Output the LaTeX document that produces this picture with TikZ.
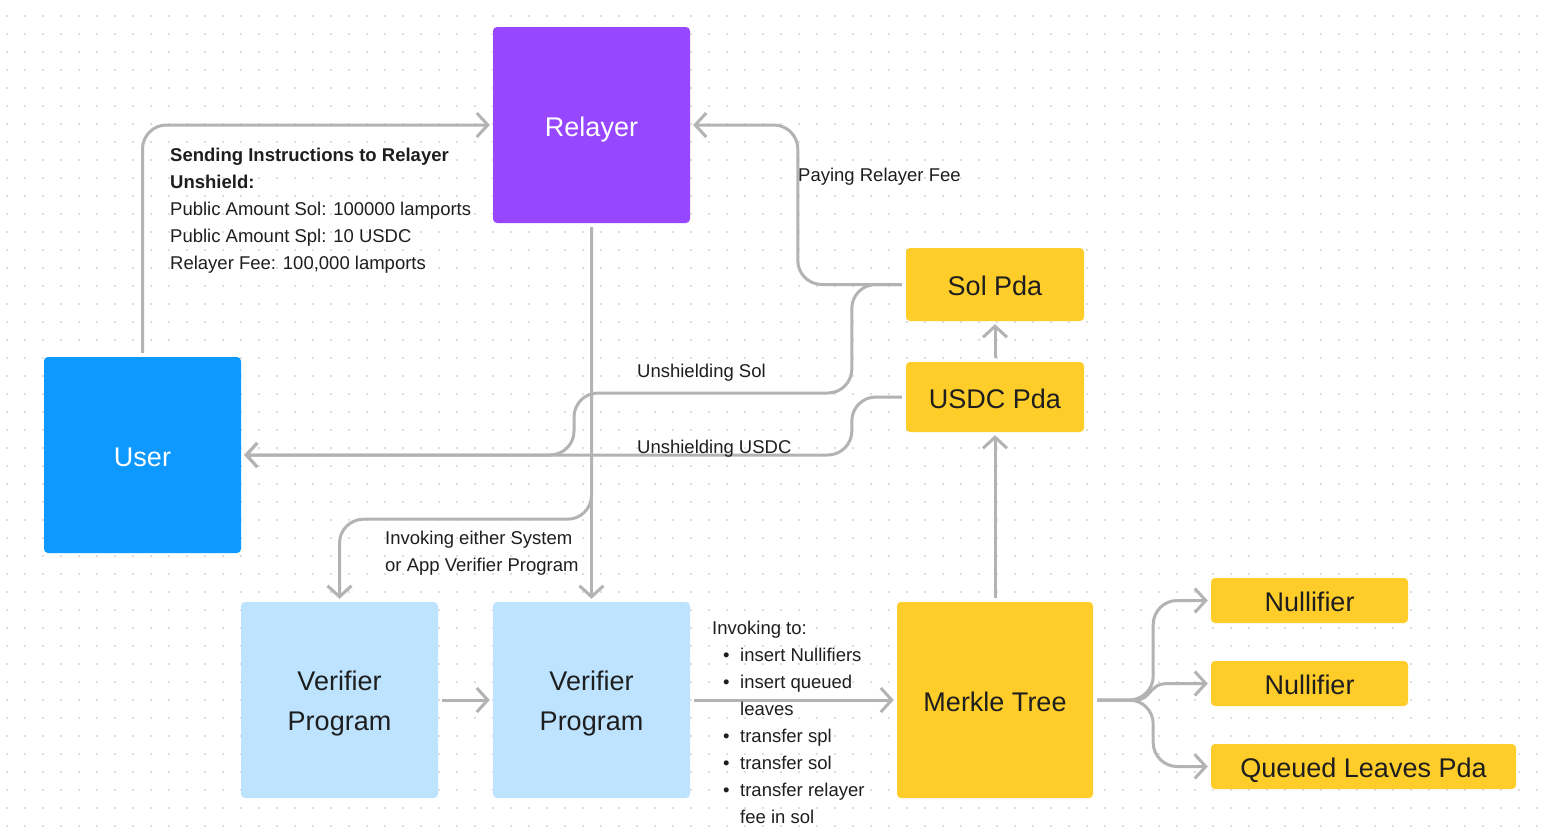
\documentclass[tikz,border=0pt]{standalone}
\usepackage{fontspec}
\setmainfont{Liberation Sans}
\usetikzlibrary{arrows.meta}
\definecolor{relpurple}{HTML}{9747FF}
\definecolor{userblue}{HTML}{0D99FF}
\definecolor{lightblue}{HTML}{BDE3FF}
\definecolor{pdayellow}{HTML}{FFCD29}
\definecolor{conngray}{HTML}{B3B3B3}
\definecolor{inkdark}{HTML}{1E1E1E}
\definecolor{dotgray}{HTML}{D2D2D2}
\begin{document}
\begin{tikzpicture}[x=1pt,y=-1pt,
  boxbase/.style={rounded corners=4pt, inner sep=0pt, font=\fontsize{27}{40}\selectfont},
  onebox/.style={boxbase, text height=22pt, text depth=0pt},
  bigbox/.style={minimum width=197pt, minimum height=196pt},
  pdabox/.style={onebox, fill=pdayellow, text=inkdark},
  verbox/.style={boxbase, bigbox, fill=lightblue, text=inkdark, align=center},
  conn/.style={draw=conngray, line width=3pt, rounded corners=24pt,
    -{Straight Barb[length=11pt,width=24pt]}, shorten <=4pt, shorten >=3pt},
  lbl/.style={text=inkdark, inner sep=0pt, font=\fontsize{18.5}{27}\selectfont, align=left},
]
\useasboundingbox (0,0) rectangle (1546,836);
\fill[white] (0,0) rectangle (1546,836);
\foreach \x in {7,25,...,1537} \foreach \y in {16,34,...,826} \fill[dotgray] (\x,\y) circle (1.1pt);

% boxes
\node[onebox, bigbox, fill=relpurple, text=white] (relayer) at (591.5,125) {Relayer};
\node[onebox, bigbox, fill=userblue, text=white] (user) at (142.5,455) {User};
\node[verbox] (ver1) at (339.5,700) {\rule{0pt}{26pt}Verifier\\Program};
\node[verbox] (ver2) at (591.5,700) {\rule{0pt}{26pt}Verifier\\Program};
\node[pdabox, minimum width=196pt, minimum height=196pt] (merkle) at (995,700) {Merkle Tree};
\node[pdabox, minimum width=178pt, minimum height=73pt] (solpda) at (995,284.5) {Sol Pda};
\node[pdabox, minimum width=178pt, minimum height=70pt] (usdcpda) at (995,397) {USDC Pda};
\node[pdabox, minimum width=197pt, minimum height=45pt] (null1) at (1309.5,600.5) {Nullifier};
\node[pdabox, minimum width=197pt, minimum height=45pt] (null2) at (1309.5,683.5) {Nullifier};
\node[pdabox, minimum width=305pt, minimum height=45pt] (queued) at (1363.5,766.5) {Queued Leaves Pda};

% connectors
\draw[conn] (user.north) |- (relayer.west);
\draw[conn] (solpda.west) -- ++(-108,0) |- (relayer.east);
\draw[conn] (solpda.west) -- ++(-54,0) |- (574,393) |- (user.east);
\draw[conn] (usdcpda.west) -- ++(-54,0) |- (user.east);
\draw[conn] (relayer.south) -- (ver2.north);
\draw[conn] (relayer.south) -- ++(0,296) -| (ver1.north);
\draw[conn] (ver1.east) -- (ver2.west);
\draw[conn] (ver2.east) -- (merkle.west);
\draw[conn] (merkle.north) -- (usdcpda.south);
\draw[conn] (usdcpda.north) -- (solpda.south);
\draw[conn] (merkle.east) -- ++(60,0) |- (null1.west);
\draw[conn, rounded corners=0pt] (merkle.east) -- (1135,700) .. controls (1152,700) and (1148,683.5) .. (1168,683.5) -- (null2.west);
\draw[conn] (merkle.east) -- ++(60,0) |- (queued.west);

% labels
\node[lbl, anchor=north west] (instr) at (170,148) {\textbf{Sending Instructions to Relayer}\\\textbf{Unshield:}\\Public Amount Sol: 100000 lamports\\Public Amount Spl: 10 USDC\\Relayer Fee: 100,000 lamports};
\node[lbl, anchor=base west] (payfee) at (798,181) {Paying Relayer Fee};
\node[lbl, anchor=base west] (unsol) at (637,377) {Unshielding Sol};
\node[lbl, anchor=base west] (unusdc) at (637,453) {Unshielding USDC};
\node[lbl, anchor=north west] (invoke) at (385,531) {Invoking either System\\or App Verifier Program};
\node[lbl, anchor=north west] (invlist) at (712,621) {Invoking to:\\
\hspace*{11pt}\makebox[17pt][l]{\textbullet}insert Nullifiers\\
\hspace*{11pt}\makebox[17pt][l]{\textbullet}insert queued\\
\hspace*{28pt}leaves\\
\hspace*{11pt}\makebox[17pt][l]{\textbullet}transfer spl\\
\hspace*{11pt}\makebox[17pt][l]{\textbullet}transfer sol\\
\hspace*{11pt}\makebox[17pt][l]{\textbullet}transfer relayer\\
\hspace*{28pt}fee in sol};
\end{tikzpicture}
\end{document}
